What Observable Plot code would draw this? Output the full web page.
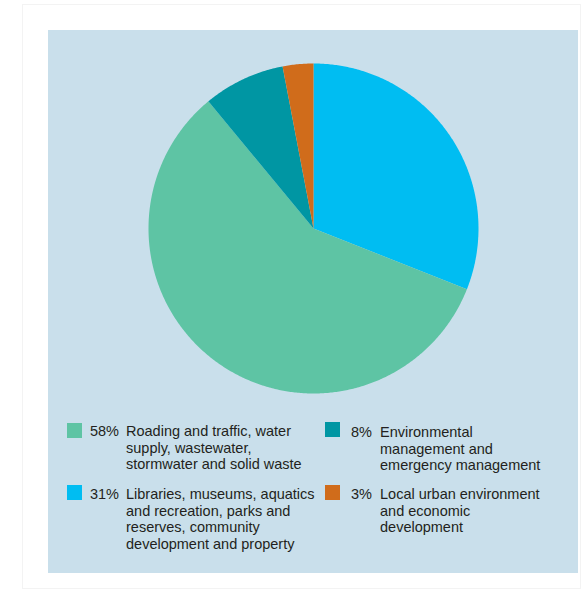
<!DOCTYPE html>
<html>
<head>
<meta charset="utf-8">
<script src="https://cdn.jsdelivr.net/npm/d3@7"></script>
<script src="https://cdn.jsdelivr.net/npm/@observablehq/plot@0.6"></script>
<style>
  html, body { margin: 0; padding: 0; background: #ffffff; }
  body { width: 581px; height: 595px; position: relative; overflow: hidden;
         font-family: "Liberation Sans", Arial, sans-serif; }
  #frame { position: absolute; left: 22px; top: 4px; width: 559px; height: 585px;
           border: 1px solid #f3f3f3; box-sizing: border-box; }
  #panel { position: absolute; left: 48px; top: 30px; width: 530px; height: 543px;
           background: #c9dfeb; }
  #chart { position: absolute; left: 0; top: 0; }
  .item { position: absolute; font-size: 14.5px; line-height: 16.7px; color: #231f20; }
  .sw { position: absolute; width: 15px; height: 15px; }
  .pct { position: absolute; text-align: right; }
  .lbl { position: absolute; white-space: nowrap; }
</style>
</head>
<body>
<div id="frame"></div>
<div id="panel"><div id="chart"></div></div>
<script>
// Data (clockwise from 12 o'clock)
const categories = [
  "Libraries, museums, aquatics and recreation, parks and reserves, community development and property",
  "Roading and traffic, water supply, wastewater, stormwater and solid waste",
  "Environmental management and emergency management",
  "Local urban environment and economic development"
];
const shares = [31, 58, 8, 3];
const colors = ["#00bdf2", "#5ec4a4", "#0096a3", "#d06c1b"];

// legend order and line breaks as in the reference
const legendOrder = [1, 2, 0, 3];
const legendLines = [
  ["Libraries, museums, aquatics", "and recreation, parks and", "reserves, community", "development and property"],
  ["Roading and traffic, water", "supply, wastewater,", "stormwater and solid waste"],
  ["Environmental", "management and", "emergency management"],
  ["Local urban environment", "and economic", "development"]
];

// Build slice outlines in data space (unit circle) from the shares
const total = d3.sum(shares);
const pts = [];
let acc = 0;
shares.forEach((v, i) => {
  const a0 = acc / total * 2 * Math.PI;
  acc += v;
  const a1 = acc / total * 2 * Math.PI;
  const name = categories[i];
  pts.push({name, x: 0, y: 0});
  const n = Math.max(2, Math.ceil((a1 - a0) / (Math.PI / 360)));
  for (let k = 0; k <= n; k++) {
    const a = a0 + (a1 - a0) * k / n;
    pts.push({name, x: Math.sin(a), y: Math.cos(a)});
  }
  pts.push({name, x: 0, y: 0});
});

const R = 165;
const W = 530, H = 396;
const plot = Plot.plot({
  width: W,
  height: H,
  margin: 0,
  style: {background: "transparent", overflow: "visible"},
  x: {domain: [-W / 2 / R, W / 2 / R], axis: null},
  y: {domain: [-H / 2 / R, H / 2 / R], axis: null},
  color: {domain: categories, range: colors},
  marks: [
    Plot.line(pts, {x: "x", y: "y", z: "name", fill: "name", stroke: null, curve: "linear"})
  ]
});
document.getElementById("chart").appendChild(plot);

// Legend (positions relative to the panel)
const panel = document.getElementById("panel");
const slots = [
  {sx: 19, sy: 393, px: 36, pw: 35, lx: 78, top: 393},
  {sx: 277, sy: 392, px: 296, pw: 28, lx: 332, top: 394},
  {sx: 19, sy: 455, px: 36, pw: 35, lx: 78, top: 456},
  {sx: 277, sy: 455, px: 296, pw: 28, lx: 332, top: 456}
];
legendOrder.forEach((ci, k) => {
  const s = slots[k];
  const sw = document.createElement("div");
  sw.className = "sw";
  sw.style.left = s.sx + "px"; sw.style.top = s.sy + "px";
  sw.style.background = colors[ci];
  panel.appendChild(sw);
  const p = document.createElement("div");
  p.className = "item pct";
  p.style.left = s.px + "px"; p.style.width = s.pw + "px"; p.style.top = s.top + "px";
  p.textContent = shares[ci] + "%";
  panel.appendChild(p);
  const l = document.createElement("div");
  l.className = "item lbl";
  l.style.left = s.lx + "px"; l.style.top = s.top + "px";
  l.innerHTML = legendLines[ci].join("<br>");
  panel.appendChild(l);
});
</script>
</body>
</html>
